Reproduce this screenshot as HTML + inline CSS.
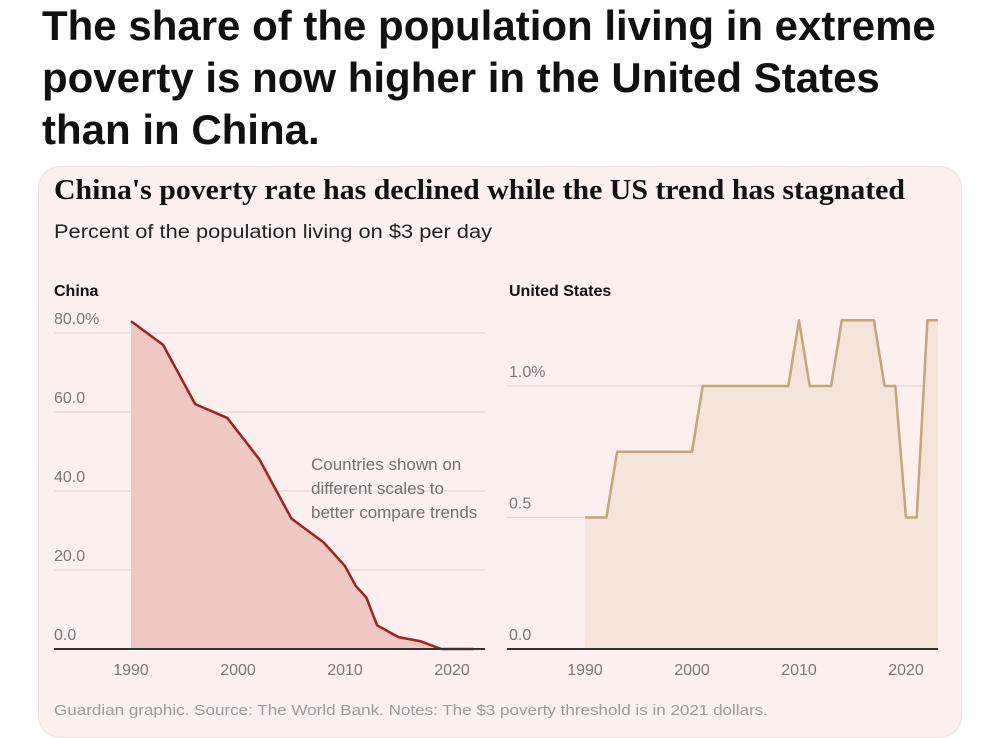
<!DOCTYPE html>
<html><head><meta charset="utf-8"><style>
body{margin:0;width:1000px;height:721px;background:#fff;overflow:hidden;font-family:"Liberation Sans",sans-serif;}
#headline{position:absolute;left:42px;top:0px;width:905px;font-size:42px;font-weight:bold;line-height:52px;color:#111;margin:0;}
#card{position:absolute;left:38px;top:166px;width:922px;height:570px;background:#fcf0ee;border-radius:22px;border:1px solid #eee2df;}
svg{position:absolute;left:0;top:0;}
</style></head><body>
<h1 id="headline">The share of the population living in extreme poverty is now higher in the United States than in China.</h1>
<div id="card"></div>
<svg id="chart" width="1000" height="721">
<text x="54" y="199" font-family="Liberation Serif,serif" font-weight="bold" font-size="28" textLength="851" lengthAdjust="spacingAndGlyphs" fill="#121212">China's poverty rate has declined while the US trend has stagnated</text>
<text x="54" y="238" font-size="19" textLength="438" lengthAdjust="spacingAndGlyphs" fill="#222">Percent of the population living on $3 per day</text>
<text x="54" y="296" font-size="16" font-weight="bold" fill="#121212">China</text>
<text x="509" y="296" font-size="16" font-weight="bold" fill="#121212">United States</text>
<g id="cn"></g><g id="us"></g>
<text font-size="17" fill="#707070"><tspan x="311" y="470">Countries shown on</tspan><tspan x="311" y="494">different scales to</tspan><tspan x="311" y="518">better compare trends</tspan></text>
<text x="54" y="715" font-size="15" textLength="714" lengthAdjust="spacingAndGlyphs" fill="#9a9a9a">Guardian graphic. Source: The World Bank. Notes: The $3 poverty threshold is in 2021 dollars.</text>
</svg>
<script>
const cnYears=[1990,1993,1996,1999,2002,2005,2008,2010,2011,2012,2013,2015,2017,2019,2022];
const cnValues=[83,77,62,58.5,48,33,27,21,16,13,6,3,2,0,0];
const cnTicks=[0,20,40,60,80];
const cnTickLabels=["0.0","20.0","40.0","60.0","80.0%"];
const usYears=[1990,1992,1993,2000,2001,2009,2010,2011,2013,2014,2017,2018,2019,2020,2021,2022,2023];
const usValues=[0.5,0.5,0.75,0.75,1,1,1.25,1,1,1.25,1.25,1,1,0.5,0.5,1.25,1.25];
const usTicks=[0,0.5,1];
const usTickLabels=["0.0","0.5","1.0%"];
const xTicks=[1990,2000,2010,2020];
const NS="http://www.w3.org/2000/svg";
function mk(p,t,a){const e=document.createElementNS(NS,t);for(const k in a)e.setAttribute(k,a[k]);p.appendChild(e);return e;}
function panel(g,pfx,x0,x1,xL,xR,yMin,yMax,ticks,labels,years,vals,fill,stroke){
  const px=y=>x0+(y-1990)*(x1-x0)/30;
  const py=v=>649-(v-yMin)*(649-333)/(yMax-yMin);
  ticks.forEach((t,i)=>{
    if(t!==0){const l=mk(g,'line',{x1:xL,x2:xR,y1:py(t),y2:py(t),stroke:'#e2d6d3','stroke-width':1.2});
    
    }
    const tx=mk(g,'text',{x:xL+(pfx==='china'?0:2),y:py(t)-9,'font-size':16,fill:'#777'});tx.textContent=labels[i];
    
    
  });
  let d='M'+px(years[0])+','+py(0);years.forEach((y,i)=>d+='L'+px(y)+','+py(vals[i]));d+='L'+px(years[years.length-1])+','+py(0)+'Z';
  const a=mk(g,'path',{d:d,fill:fill});
  
  
  const ln=mk(g,'polyline',{points:years.map((y,i)=>px(y)+','+py(vals[i])).join(' '),fill:'none',stroke:stroke,'stroke-width':2.5,'stroke-linejoin':'round'});
  
  
  const b=mk(g,'line',{x1:xL,x2:xR,y1:649,y2:649,stroke:'#333','stroke-width':2});
  
  
  xTicks.forEach(y=>{const t=mk(g,'text',{x:px(y),y:675,'font-size':16,fill:'#777','text-anchor':'middle'});t.textContent=y;
    
    });
}
panel(document.getElementById('cn'),'china',131,452,54,485,0,80,cnTicks,cnTickLabels,cnYears,cnValues,'#efc8c4','#a3211c');
panel(document.getElementById('us'),'us',585,906,507,938,0,1.2015,usTicks,usTickLabels,usYears,usValues,'#f3e3d9','#c2a67c');
</script>
</body></html>
